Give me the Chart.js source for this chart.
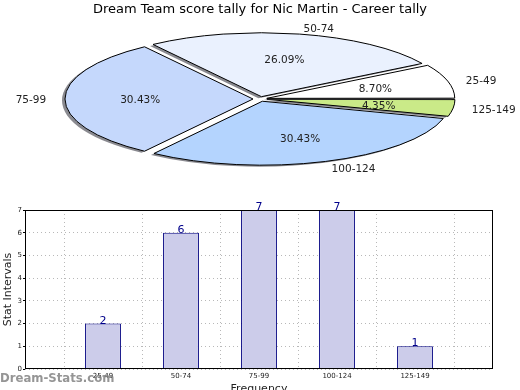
<!DOCTYPE html>
<html>
<head>
<meta charset="utf-8">
<script src="https://cdn.jsdelivr.net/npm/chart.js@4.4.0/dist/chart.umd.min.js"></script>
<style>
  html, body { margin: 0; padding: 0; background: #fff; overflow: hidden; }
  #wrap { position: relative; width: 520px; height: 390px; }
  canvas { position: absolute; left: 0; top: 0; }
</style>
</head>
<body>
<div id="wrap">
  <canvas id="barChart" width="520" height="396"></canvas>
  <canvas id="pieChart" width="520" height="200"></canvas>
</div>
<script>
// data
var categories = ['25-49', '50-74', '75-99', '100-124', '125-149'];
var tally = [2, 6, 7, 7, 1];
var sliceColors = ['#ffffff', '#eaf1fe', '#c5d8fc', '#b4d4fe', '#caea88'];

var total = tally.reduce(function (a, b) { return a + b; }, 0);

Chart.defaults.font.family = '"DejaVu Sans", sans-serif';
Chart.defaults.color = '#222';

// matplotlib goes counter-clockwise from 3 o'clock, chart.js clockwise -> reverse
var pieLabels = categories.slice().reverse();
var pieValues = tally.slice().reverse();
var pieColors = sliceColors.slice().reverse();

var PIE_R = 188;     // horizontal radius
var PIE_K = 0.34;    // vertical squash
var PIE_CY = 99;

// squash the pie into an ellipse, keep 1px borders, add shadow
var squashPie = {
  id: 'squashPie',
  afterDatasetsUpdate: function (chart) {
    // chart.js grows small offset slices, undo that so all share one radius
    chart.getDatasetMeta(0).data.forEach(function (arc) {
      var circ = arc.endAngle - arc.startAngle;
      var fix = 1 - Math.sin(Math.min(Math.PI, circ));
      arc.outerRadius = PIE_R - (arc.options.offset / 4) * fix;
    });
  },
  beforeDatasetsDraw: function (chart) {
    var ctx = chart.ctx;
    var arc = chart.getDatasetMeta(0).data[0];
    ctx.save();
    var base = ctx.getTransform();
    ctx.translate(0, PIE_CY);
    ctx.scale(1, PIE_K);
    ctx.translate(0, -arc.y);
    var stroke = ctx.stroke;
    // borders: plain 1px, no shadow
    ctx.stroke = function () {
      this.save();
      this.setTransform(base);
      this.shadowColor = 'rgba(0,0,0,0)';
      stroke.apply(this, arguments);
      this.restore();
    };
    ctx.shadowColor = 'rgba(60,60,70,0.6)';
    ctx.shadowOffsetX = -3;
    ctx.shadowOffsetY = 1.5;
    ctx.shadowBlur = 0;
  },
  afterDatasetsDraw: function (chart) {
    var ctx = chart.ctx;
    delete ctx.stroke;
    ctx.restore();
  },
  afterDraw: function (chart) {
    var ctx = chart.ctx;
    ctx.save();
    ctx.font = '10.5px "DejaVu Sans"';
    ctx.fillStyle = '#222';
    ctx.textBaseline = 'middle';
    chart.getDatasetMeta(0).data.forEach(function (arc, i) {
      var mid = (arc.startAngle + arc.endAngle) / 2;
      var shift = arc.options.offset / 4;
      var c = Math.cos(mid), s = Math.sin(mid);
      var at = function (d) { return { x: arc.x + c * d, y: PIE_CY + 1.5 + s * d * PIE_K }; };
      var lp = at(shift + 1.1 * PIE_R);
      ctx.textAlign = c >= 0 ? 'left' : 'right';
      ctx.fillText(pieLabels[i], lp.x, lp.y);
      var pp = at(shift + 0.6 * PIE_R);
      ctx.textAlign = 'center';
      ctx.fillText((pieValues[i] / total * 100).toFixed(2) + '%', pp.x, pp.y);
    });
    ctx.restore();
  }
};

var pieChart = new Chart(document.getElementById('pieChart'), {
  type: 'pie',
  data: {
    labels: pieLabels,
    datasets: [{
      data: pieValues,
      backgroundColor: pieColors,
      borderColor: '#000',
      borderWidth: 1,
      offset: 28,
      clip: false
    }]
  },
  options: {
    responsive: false,
    animation: false,
    events: [],
    rotation: 90,
    radius: PIE_R,
    plugins: {
      legend: { display: false },
      tooltip: { enabled: false },
      title: {
        display: true,
        text: 'Dream Team score tally for Nic Martin - Career tally',
        color: '#000',
        font: { size: 13, weight: 'normal' },
        padding: { top: 2, bottom: 0 }
      }
    }
  },
  plugins: [squashPie]
});

// bar chart: one empty slot each side like the original axis range
var barLabels = [''].concat(categories, ['']);
var barData = [null].concat(tally, [null]);

var barExtras = {
  id: 'barExtras',
  afterDraw: function (chart) {
    var ctx = chart.ctx;
    var a = chart.chartArea;
    ctx.save();
    ctx.strokeStyle = '#000';
    ctx.lineWidth = 1;
    ctx.strokeRect(Math.round(a.left) + 0.5, Math.round(a.top) + 0.5,
      Math.round(a.right - a.left) - 1, Math.round(a.bottom - a.top) - 1);

    ctx.font = '11px "DejaVu Sans"';
    ctx.fillStyle = '#00008b';
    ctx.textAlign = 'center';
    ctx.textBaseline = 'alphabetic';
    chart.getDatasetMeta(0).data.forEach(function (bar, i) {
      if (barData[i] == null) return;
      ctx.fillText(String(barData[i]), bar.x, bar.y);
    });

    ctx.font = 'bold 13px "DejaVu Sans Condensed"';
    ctx.fillStyle = 'rgba(130,130,130,0.85)';
    ctx.textAlign = 'left';
    ctx.textBaseline = 'middle';
    ctx.fillText('Dream-Stats.com', 0, 379);
    ctx.restore();
  }
};

var barChart = new Chart(document.getElementById('barChart'), {
  type: 'bar',
  data: {
    labels: barLabels,
    datasets: [{
      data: barData,
      backgroundColor: '#ccccea',
      borderColor: '#000080',
      borderWidth: 1,
      barPercentage: 0.46,
      categoryPercentage: 1
    }]
  },
  options: {
    responsive: false,
    animation: false,
    events: [],
    layout: { padding: { top: 210, right: 27, left: 0, bottom: 0 } },
    plugins: { legend: { display: false }, tooltip: { enabled: false } },
    scales: {
      x: {
        offset: false,
        afterFit: function (scale) { scale.height = 27; },
        grid: { color: '#b8b8b8', drawTicks: false },
        border: { display: false, dash: [1, 3] },
        ticks: { font: { size: 7 }, color: '#222', padding: 3, maxRotation: 0, autoSkip: false },
        title: { display: true, text: 'Frequency', font: { size: 11 }, color: '#222', padding: 0 }
      },
      y: {
        min: 0,
        max: 7,
        afterFit: function (scale) { scale.width = 25; },
        grid: { color: '#b8b8b8', tickLength: 2, tickColor: '#000' },
        border: { display: false, dash: [1, 3] },
        ticks: { stepSize: 1, font: { size: 7 }, color: '#222', padding: 1 },
        title: { display: true, text: 'Stat Intervals', font: { size: 11 }, color: '#222', padding: { top: 2, bottom: 0 } }
      }
    }
  },
  plugins: [barExtras]
});
</script>
</body>
</html>
